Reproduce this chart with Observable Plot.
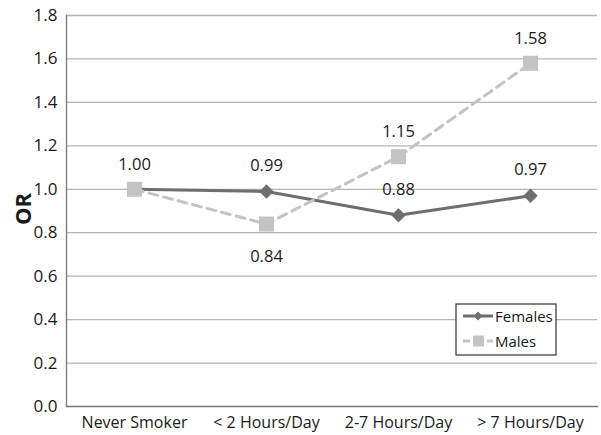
<!DOCTYPE html>
<html><head><meta charset="utf-8">
<script src="https://cdn.jsdelivr.net/npm/d3@7"></script>
<script src="https://cdn.jsdelivr.net/npm/@observablehq/plot@0.6"></script>
<style>body{margin:0;background:#fff;} #chart{position:relative;width:601px;height:435px;}</style>
</head><body><div id="chart"></div>
<script>
const categories = ["Never Smoker", "< 2 Hours/Day", "2-7 Hours/Day", "> 7 Hours/Day"];
const females = [1.00, 0.99, 0.88, 0.97];
const males = [1.00, 0.84, 1.15, 1.58];
const yTicks = [0, 0.2, 0.4, 0.6, 0.8, 1.0, 1.2, 1.4, 1.6, 1.8];
const femaleLabelPos = ["none", "above", "above", "above"];
const maleLabelPos = ["above", "below", "above", "above"];

const fData = categories.map((c, i) => ({cat: c, v: females[i], pos: femaleLabelPos[i]}));
const mData = categories.map((c, i) => ({cat: c, v: males[i], pos: maleLabelPos[i]}));

const fCol = "#6e6e6e", mCol = "#c3c3c3";
const font = "'Open Sans', 'Liberation Sans', sans-serif";

const plot = Plot.plot({
  width: 601, height: 435,
  marginLeft: 66, marginRight: 4, marginTop: 15, marginBottom: 29,
  style: {fontFamily: font, fontSize: "15px", color: "#1a1a1a", background: "#fff"},
  x: {type: "band", domain: categories, padding: 0, label: null},
  y: {domain: [0, 1.8], label: null},
  marks: [
    Plot.ruleY(yTicks.filter(d => d > 0), {stroke: "#b5b5b5", strokeWidth: 1.3, strokeOpacity: 1}),
    Plot.axisY({ticks: yTicks, tickFormat: d3.format(".1f"), tickSize: 0, tickPadding: 9, fontSize: 17, label: null}),
    Plot.axisX({tickSize: 0, tickPadding: 10, fontSize: 16, label: null}),
    Plot.line(fData, {x: "cat", y: "v", stroke: fCol, strokeWidth: 3}),
    Plot.dot(fData, {x: "cat", y: "v", symbol: "diamond2", fill: fCol, stroke: "none", r: 6.5}),
    Plot.line(mData, {x: "cat", y: "v", stroke: mCol, strokeWidth: 3, strokeDasharray: "9,6"}),
    Plot.dot(mData, {x: "cat", y: "v", symbol: "square", fill: mCol, r: 8.5}),
    Plot.text(mData, {x: "cat", y: "v", text: d => d.v.toFixed(2), dy: -25, filter: d => d.pos === "above", fill: "#1a1a1a", fontSize: 16.5}),
    Plot.text(mData, {x: "cat", y: "v", text: d => d.v.toFixed(2), dy: 33, filter: d => d.pos === "below", fill: "#1a1a1a", fontSize: 16.5}),
    Plot.text(fData, {x: "cat", y: "v", text: d => d.v.toFixed(2), dy: -26, filter: d => d.pos === "above", fill: "#1a1a1a", fontSize: 16.5}),
    Plot.frame({anchor: "left", stroke: "#777", strokeWidth: 1.3}),
    Plot.frame({anchor: "bottom", stroke: "#777", strokeWidth: 1.3})
  ]
});
document.getElementById("chart").appendChild(plot);

// Y axis title and legend
const svg = d3.select(plot);
svg.append("text").attr("transform", "translate(22,209) rotate(-90)")
  .attr("text-anchor", "middle").attr("dominant-baseline", "central")
  .attr("font-family", font).attr("font-weight", "bold")
  .attr("font-size", 22).attr("fill", "#1a1a1a").text("OR");

const lg = svg.append("g").attr("transform", "translate(456,304)");
lg.append("rect").attr("width", 100).attr("height", 51).attr("fill", "#fff").attr("stroke", "#333").attr("stroke-width", 1.2);
lg.append("line").attr("x1", 7).attr("x2", 37).attr("y1", 12).attr("y2", 12).attr("stroke", fCol).attr("stroke-width", 3);
lg.append("path").attr("d", d3.symbol(d3.symbolDiamond2, 50)()).attr("transform", "translate(22,12)").attr("fill", fCol);
lg.append("text").attr("x", 39).attr("y", 12).attr("text-anchor", "start").attr("dominant-baseline", "central")
  .attr("font-family", font).attr("font-size", 15).attr("fill", "#1a1a1a").text("Females");
lg.append("line").attr("x1", 7).attr("x2", 37).attr("y1", 37).attr("y2", 37).attr("stroke", mCol).attr("stroke-width", 3).attr("stroke-dasharray", "7,5");
lg.append("rect").attr("x", 17).attr("y", 31.5).attr("width", 11).attr("height", 11).attr("fill", mCol);
lg.append("text").attr("x", 39).attr("y", 37).attr("text-anchor", "start").attr("dominant-baseline", "central")
  .attr("font-family", font).attr("font-size", 15).attr("fill", "#1a1a1a").text("Males");
</script></body></html>
